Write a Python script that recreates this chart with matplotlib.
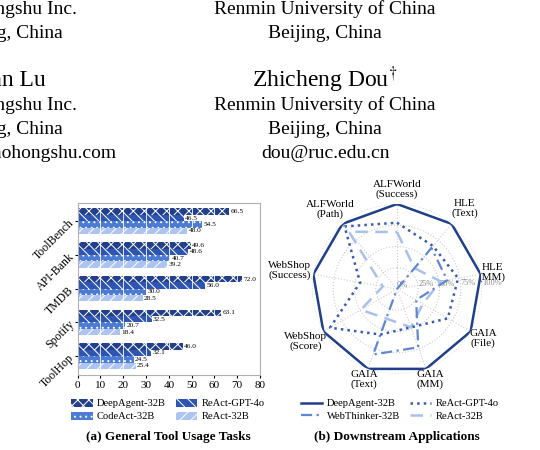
import numpy as np
import matplotlib
matplotlib.use("Agg")
import matplotlib.pyplot as plt
from matplotlib.patches import Patch
from matplotlib.lines import Line2D

plt.rcParams['font.family'] = ['Liberation Serif', 'DejaVu Serif']
plt.rcParams['mathtext.fontset'] = 'stix'
plt.rcParams['hatch.linewidth'] = 0.7

# bar chart data
tasks = ["ToolBench", "API-Bank", "TMDB", "Spotify", "ToolHop"]
bar_names = ["DeepAgent-32B", "ReAct-GPT-4o", "CodeAct-32B", "ReAct-32B"]
deepagent = [66.5, 49.6, 72.0, 63.1, 46.0]
react_gpt4o = [46.5, 48.6, 56.0, 32.5, 32.1]
codeact = [54.5, 40.7, 30.0, 20.7, 24.5]
react32b = [48.0, 39.2, 28.5, 18.4, 25.4]

# radar data (% of DeepAgent)
axes_names = ["ALFWorld\n(Success)", "HLE\n(Text)", "HLE\n(MM)", "GAIA\n(File)",
              "GAIA\n(MM)", "GAIA\n(Text)", "WebShop\n(Score)",
              "WebShop\n(Success)", "ALFWorld\n(Path)"]
radar_names = ["DeepAgent-32B", "ReAct-GPT-4o", "WebThinker-32B", "ReAct-32B"]
r_deepagent = [100, 100, 100, 100, 100, 100, 100, 100, 100]
r_gpt4o = [78, 66, 73, 69, 48, 57, 91, 44, 96]
r_webthinker = [0, 63, 60, 26, 73, 82, 0, 0, 0]
r_react32b = [67, 32, 52, 35, 48, 37, 49, 17, 88]

fig = plt.figure(figsize=(5.4, 4.5), dpi=100)

# ---- paper header text
W, H = 540.0, 450.0
def ftext(x, y, s, **kw):
    fig.text(x / W, 1 - y / H, s, va='center', **kw)

ftext(325, 9, "Renmin University of China", ha='center', fontsize=14)
ftext(325, 33, "Beijing, China", ha='center', fontsize=14)
ftext(325, 80, r"Zhicheng Dou$^{\dagger}$", ha='center', fontsize=17)
ftext(325, 105, "Renmin University of China", ha='center', fontsize=14)
ftext(325, 129, "Beijing, China", ha='center', fontsize=14)
ftext(325, 153, "dou@ruc.edu.cn", ha='center', fontsize=14)

ftext(77, 9, "Xiaohongshu Inc.", ha='right', fontsize=14)
ftext(63, 33, "Beijing, China", ha='right', fontsize=14)
ftext(46, 80, "Yuan Lu", ha='right', fontsize=17)
ftext(77, 105, "Xiaohongshu Inc.", ha='right', fontsize=14)
ftext(63, 129, "Beijing, China", ha='right', fontsize=14)
ftext(117, 153, "luyuan@xiaohongshu.com", ha='right', fontsize=14)

# ---- (a) bar chart
ax = fig.add_axes([77.7 / W, 1 - 375 / H, (260 - 77.7) / W, (375 - 203) / H])
bar_colors = ['#22408a', '#2e55b2', '#4c7bd4', '#adc4f1']
hatches = ['xxx', '\\\\\\', '...', '///']
series = [deepagent, react_gpt4o, codeact, react32b]
y = np.arange(len(tasks))
h = 0.19
for k, vals in enumerate(series):
    pos = y - 1.5 * h + k * h
    ax.barh(pos, vals, height=h, color=bar_colors[k], hatch=hatches[k],
            edgecolor='white', linewidth=0)
    for p, v in zip(pos, vals):
        ax.text(v + 0.6, p, f"{v:.1f}", va='center', ha='left', fontsize=5.3)

ax.set_xlim(0, 80)
ax.set_ylim(4.56, -0.54)
ax.set_xticks(range(0, 81, 10))
ax.set_yticks(y)
ax.set_yticklabels(tasks, rotation=45, ha='right', va='center',
                   rotation_mode='anchor', fontsize=8.5)
ax.tick_params(axis='x', labelsize=8, length=2, pad=2)
ax.tick_params(axis='y', length=2, pad=2)
ax.grid(axis='x', color='white', linewidth=0.6)
for s in ax.spines.values():
    s.set_color('#b0b0b0')
    s.set_linewidth(0.8)

handles = [Patch(facecolor=bar_colors[k], hatch=hatches[k], edgecolor='white',
                 linewidth=0, label=bar_names[k]) for k in [0, 2, 1, 3]]
fig.legend(handles=handles, ncol=2, loc='center', frameon=False,
           bbox_to_anchor=(168 / W, 1 - 410 / H), fontsize=7.6,
           handlelength=2.0, handleheight=0.8, columnspacing=1.0,
           labelspacing=0.3, handletextpad=0.4)
ftext(168, 437, "(a) General Tool Usage Tasks", ha='center', fontsize=9.5,
      fontweight='bold')

# ---- (b) radar chart
cx, cy, R = 397, 289, 85
rax = fig.add_axes([(cx - R) / W, 1 - (cy + R) / H, 2 * R / W, 2 * R / H],
                   projection='polar')
rax.set_theta_offset(np.pi / 2)
rax.set_theta_direction(-1)
n = len(axes_names)
theta = np.linspace(0, 2 * np.pi, n, endpoint=False)
tc = np.append(theta, theta[0])

line_colors = ['#1f3f8a', '#3a5cb0', '#5f87d6', '#a9c0ea']
styles = ['-', ':', (0, (5, 2, 1, 2)), (0, (5, 3))]
widths = [1.8, 1.8, 1.6, 1.8]
rseries = [r_deepagent, r_gpt4o, r_webthinker, r_react32b]
for k, vals in enumerate(rseries):
    vc = np.append(vals, vals[0])
    rax.plot(tc, vc, color=line_colors[k], linestyle=styles[k],
             linewidth=widths[k], zorder=5 - k)

rax.set_ylim(0, 100)
rax.set_xticks(theta)
rax.set_xticklabels([])
rax.set_yticks([0, 25, 50, 75, 100])
rax.set_yticklabels(["0%", "25%", "50%", "75%", "100%"], fontsize=6,
                    color='#888888')
rax.set_rlabel_position(88.5)
rax.grid(color='#cccccc', linestyle=':', linewidth=0.8)
rax.spines['polar'].set_visible(False)
label_r = [117, 124, 114, 117, 113, 113, 124, 128, 122]
for t, name, lr in zip(theta, axes_names, label_r):
    rax.text(t, lr, name, ha='center', va='center', fontsize=8,
             linespacing=1.05)

lh = [Line2D([0], [0], color=line_colors[k], linestyle=styles[k],
             linewidth=widths[k], label=radar_names[k]) for k in [0, 2, 1, 3]]
fig.legend(handles=lh, ncol=2, loc='center', frameon=False,
           bbox_to_anchor=(400 / W, 1 - 410 / H), fontsize=7.6,
           handlelength=2.0, columnspacing=1.0, labelspacing=0.3,
           handletextpad=0.4)
ftext(397, 437, "(b) Downstream Applications", ha='center', fontsize=9.5,
      fontweight='bold')

fig.savefig("out.png", dpi=100)
